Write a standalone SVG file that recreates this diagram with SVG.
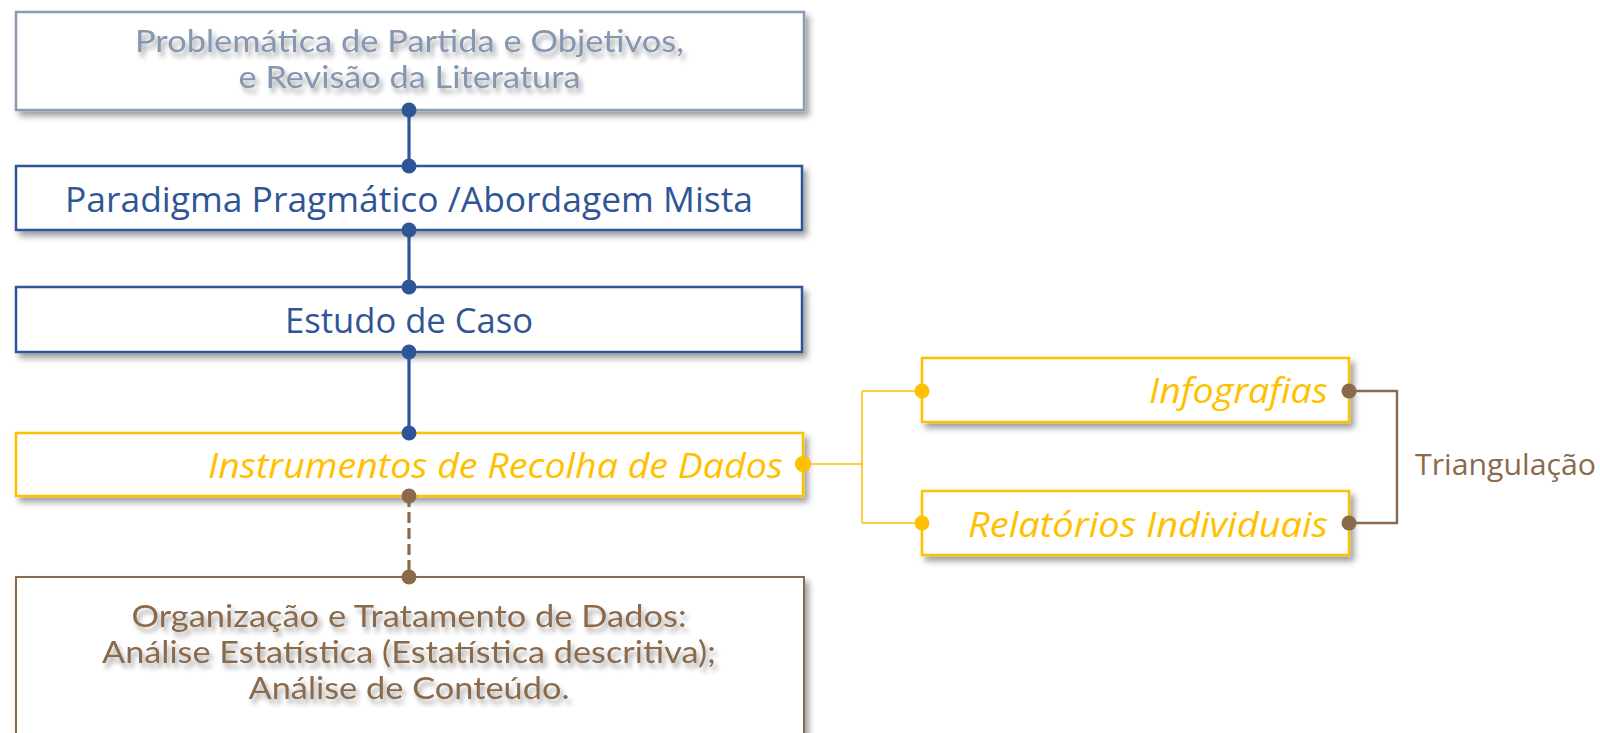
<svg xmlns="http://www.w3.org/2000/svg" width="1600" height="733" viewBox="0 0 1600 733">
<defs>
<filter id="sh" x="-10%" y="-20%" width="130%" height="160%">
<feDropShadow dx="4" dy="5" stdDeviation="3" flood-color="#000" flood-opacity="0.38"/>
</filter>
<filter id="tsh" x="-10%" y="-30%" width="130%" height="180%">
<feDropShadow dx="3" dy="5" stdDeviation="2.5" flood-color="#000" flood-opacity="0.35"/>
</filter>
<style>
.box{fill:#fff;stroke-width:2.5;filter:url(#sh)}
.gray{stroke:#8a9cb4}
.blue{stroke:#2f5597}
.yel{stroke:#ffc000}
.brn{stroke:#8b6a4b}
.cal{font-family:Lato,"Liberation Sans",sans-serif}
.hum{font-family:"Open Sans","Noto Sans","DejaVu Sans",sans-serif}
.tb{fill:#2f5597;font-size:35px}
.ty{fill:#ffc000;font-size:35px;font-style:italic}
.dot-b{fill:#2f5597}
.dot-y{fill:#ffc000}
.dot-n{fill:#8b6a4b}
</style>
</defs>
<rect width="1600" height="733" fill="#fff"/>

<g id="n1">
<rect class="box gray" x="16" y="12" width="788" height="98"/>
<g filter="url(#tsh)" class="cal" fill="#8496b0" font-size="31" text-anchor="middle">
<text x="409.5" y="52" textLength="549" lengthAdjust="spacingAndGlyphs">Problemática de Partida e Objetivos,</text>
<text x="409.5" y="88" textLength="342" lengthAdjust="spacingAndGlyphs">e Revisão da Literatura</text>
</g>
</g>

<g id="n2">
<rect class="box blue" x="16" y="166" width="786" height="64"/>
<text class="hum tb" x="409" y="212" text-anchor="middle" textLength="688" lengthAdjust="spacingAndGlyphs">Paradigma Pragmático /Abordagem Mista</text>
</g>

<g id="n3">
<rect class="box blue" x="16" y="287" width="786" height="65"/>
<text class="hum tb" x="409" y="333" text-anchor="middle" textLength="248" lengthAdjust="spacingAndGlyphs">Estudo de Caso</text>
</g>

<g id="n4">
<rect class="box yel" x="16" y="433" width="787" height="63"/>
<text class="hum ty" x="783" y="478" text-anchor="end" textLength="575" lengthAdjust="spacingAndGlyphs">Instrumentos de Recolha de Dados</text>
</g>

<g id="n5">
<rect class="box brn" x="16" y="577" width="788" height="175" style="stroke-width:2"/>
<g filter="url(#tsh)" class="cal" fill="#8b6a4b" font-size="31" text-anchor="middle">
<text x="409" y="627" textLength="555" lengthAdjust="spacingAndGlyphs">Organização e Tratamento de Dados:</text>
<text x="409" y="663" textLength="614" lengthAdjust="spacingAndGlyphs">Análise Estatística (Estatística descritiva);</text>
<text x="409" y="699" textLength="321" lengthAdjust="spacingAndGlyphs">Análise de Conteúdo.</text>
</g>
</g>

<g id="n6">
<rect class="box yel" x="922" y="358" width="427" height="64"/>
<text class="hum ty" x="1328" y="403" text-anchor="end" textLength="179" lengthAdjust="spacingAndGlyphs">Infografias</text>
</g>

<g id="n7">
<rect class="box yel" x="922" y="491" width="427" height="64"/>
<text class="hum ty" x="1328" y="537" text-anchor="end" textLength="360" lengthAdjust="spacingAndGlyphs">Relatórios Individuais</text>
</g>

<g id="n8">
<text class="hum" x="1415" y="475" fill="#8b6a4b" font-size="30" textLength="181" lengthAdjust="spacingAndGlyphs">Triangulação</text>
</g>

<g id="connectors" fill="none">
<path d="M409 110V166M409 230V287M409 352V433" stroke="#2f5597" stroke-width="3.2"/>
<path d="M409 496V577" stroke="#8b6a4b" stroke-width="3.2" stroke-dasharray="11 5"/>
<path d="M803 464H862M862 391V523M862 391H922M862 523H922" stroke="#ffc000" stroke-width="1.5"/>
<path d="M1349 391H1397V523H1349" stroke="#8b6a4b" stroke-width="2.5"/>
<g stroke="none">
<circle class="dot-b" cx="409" cy="110" r="7.5"/>
<circle class="dot-b" cx="409" cy="166" r="7.5"/>
<circle class="dot-b" cx="409" cy="230" r="7.5"/>
<circle class="dot-b" cx="409" cy="287" r="7.5"/>
<circle class="dot-b" cx="409" cy="352" r="7.5"/>
<circle class="dot-b" cx="409" cy="433" r="7.5"/>
<circle class="dot-n" cx="409" cy="496" r="7.5"/>
<circle class="dot-n" cx="409" cy="577" r="7.5"/>
<circle class="dot-y" cx="803" cy="464" r="8"/>
<circle class="dot-y" cx="922" cy="391" r="7.5"/>
<circle class="dot-y" cx="922" cy="523" r="7.5"/>
<circle class="dot-n" cx="1349" cy="391" r="7.5"/>
<circle class="dot-n" cx="1349" cy="523" r="7.5"/>
</g>
</g>
</svg>
